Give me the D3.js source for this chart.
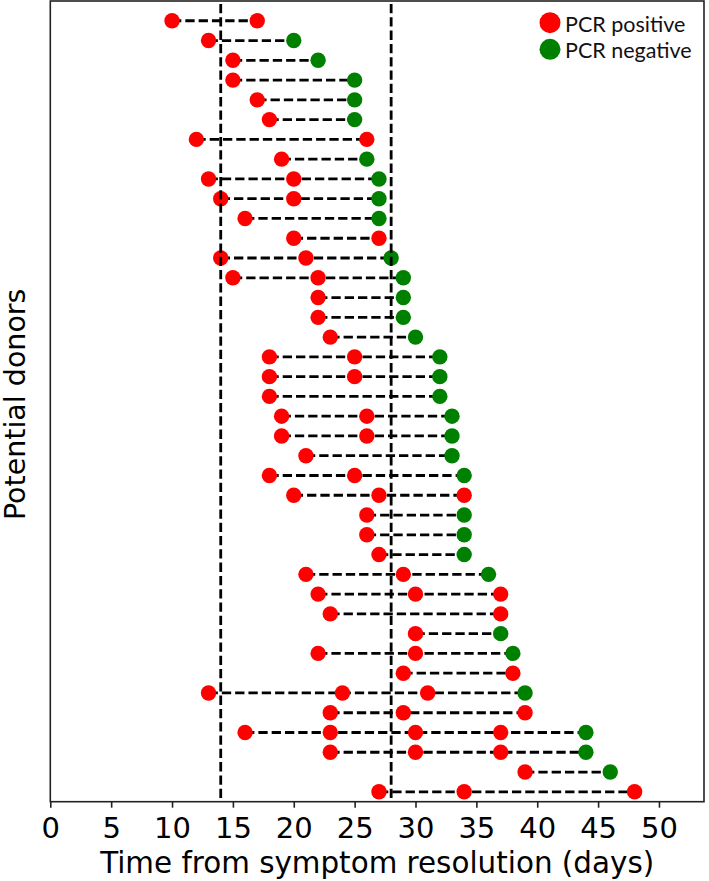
<!DOCTYPE html>
<html>
<head>
<meta charset="utf-8">
<script src="https://cdn.jsdelivr.net/npm/d3@7"></script>
<style>
  html, body { margin: 0; padding: 0; background: #fff; }
  svg { display: block; }
</style>
</head>
<body>
<script>
// PCR positive test days for each potential donor (top row first)
const positiveDays = [
  [10,17],[13],[15],[15],[17],[18],[12,26],[19],[13,20],[14,20],
  [16],[20,27],[14,21],[15,22],[22],[22],[23],[18,25],[18,25],[18],
  [19,26],[19,26],[21],[18,25],[20,27,34],[26],[26],[27],[21,29],[22,30,37],
  [23,37],[30],[22,30],[29,38],[13,24,31],[23,29,39],[16,23,30,37],[23,30,37],[39],[27,34,48]
];
// PCR negative test day (null = none)
const negativeDays = [
  null,20,22,25,25,25,null,26,27,27,
  27,null,28,29,29,29,30,32,32,32,
  33,33,33,34,null,34,34,34,36,null,
  null,37,38,null,39,null,44,44,46,null
];
const referenceDays = [14, 28];
const xTicks = [0,5,10,15,20,25,30,35,40,45,50];
const legendItems = ["PCR positive", "PCR negative"];
const legendColors = ["#ff0000", "#008000"];

const W = 709, H = 881;
const pLeft = 50.3, pRight = 704, pTop = 1, pBottom = 801.7;

const svg = d3.select("body").append("svg").attr("width", W).attr("height", H);

const x = d3.scaleLinear().domain([0, 53.7]).range([pLeft, pRight]);
const n = positiveDays.length;
const y = d3.scaleLinear().domain([-0.5, 40]).range([pBottom, pTop]);
const rowY = i => y(n - 1 - i);

const rows = positiveDays.map((p, i) => {
  const all = p.slice();
  if (negativeDays[i] != null) all.push(negativeDays[i]);
  return { i, pos: p, neg: negativeDays[i], min: d3.min(all), max: d3.max(all) };
});

// connecting dashed lines
svg.append("g").selectAll("line").data(rows).join("line")
  .attr("x1", d => x(d.min)).attr("x2", d => x(d.max))
  .attr("y1", d => rowY(d.i)).attr("y2", d => rowY(d.i))
  .attr("stroke", "#000").attr("stroke-width", 2.8)
  .attr("stroke-dasharray", "9.3,4");

const R = 7.7;
const posPts = rows.flatMap(d => d.pos.map(v => ({ v, i: d.i })));
const negPts = rows.filter(d => d.neg != null).map(d => ({ v: d.neg, i: d.i }));

svg.append("g").selectAll("circle").data(posPts).join("circle")
  .attr("cx", d => x(d.v)).attr("cy", d => rowY(d.i)).attr("r", R)
  .attr("fill", legendColors[0]);
svg.append("g").selectAll("circle").data(negPts).join("circle")
  .attr("cx", d => x(d.v)).attr("cy", d => rowY(d.i)).attr("r", R)
  .attr("fill", legendColors[1]);

// vertical reference lines
svg.append("g").selectAll("line").data(referenceDays).join("line")
  .attr("x1", d => x(d)).attr("x2", d => x(d))
  .attr("y1", pTop + 3).attr("y2", pBottom)
  .attr("stroke", "#000").attr("stroke-width", 2.8)
  .attr("stroke-dasharray", "9.3,4");

// frame
svg.append("rect").attr("x", pLeft).attr("y", pTop)
  .attr("width", pRight - pLeft).attr("height", pBottom - pTop)
  .attr("fill", "none").attr("stroke", "#222").attr("stroke-width", 1.6);

// x axis
const xAxis = d3.axisBottom(x).tickValues(xTicks).tickSize(6).tickPadding(4);
const gx = svg.append("g").attr("transform", `translate(0,${pBottom})`).call(xAxis);
gx.select(".domain").remove();
gx.selectAll(".tick line").attr("stroke", "#222").attr("stroke-width", 1.6);
gx.selectAll(".tick text").attr("font-family", "DejaVu Sans").attr("font-size", 29)
  .attr("fill", "#000").attr("dy", null).attr("y", 36.5);

svg.append("text").attr("x", (pLeft + pRight) / 2).attr("y", 873)
  .attr("text-anchor", "middle").attr("font-family", "DejaVu Sans").attr("font-size", 29.4)
  .text("Time from symptom resolution (days)");

svg.append("text")
  .attr("transform", `translate(24.5,${(pTop + pBottom) / 2 + 3}) rotate(-90)`)
  .attr("text-anchor", "middle").attr("font-family", "DejaVu Sans").attr("font-size", 28.5)
  .text("Potential donors");

// legend
const lg = svg.append("g");
legendItems.forEach((t, k) => {
  const cy = 22.7 + k * 26.6;
  lg.append("circle").attr("cx", 550).attr("cy", cy).attr("r", 10.5).attr("fill", legendColors[k]);
  lg.append("text").attr("x", 565).attr("y", cy + 9)
    .attr("font-family", "Lato").attr("font-size", 21.5).attr("fill", "#111")
    .text(t);
});
</script>
</body>
</html>
